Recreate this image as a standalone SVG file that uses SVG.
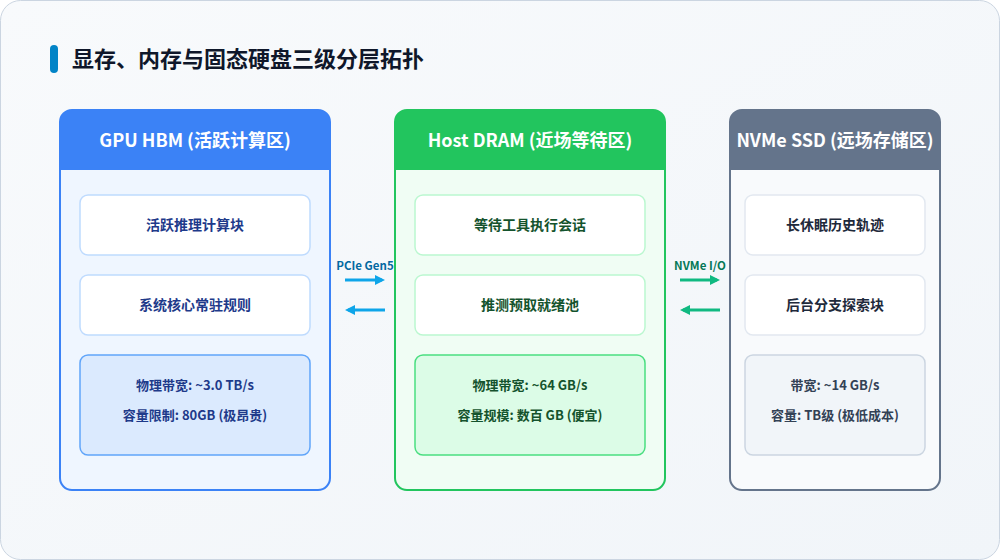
<svg xmlns="http://www.w3.org/2000/svg" width="1000" height="560" viewBox="0 0 1000 560">
  <defs>
    <linearGradient id="bg" x1="0" y1="0" x2="1" y2="1">
      <stop offset="0" stop-color="#f8fafc"/>
      <stop offset="1" stop-color="#f1f5f9"/>
    </linearGradient>
    <marker id="ahBlue" markerWidth="10" markerHeight="10" refX="7" refY="5" orient="auto" markerUnits="userSpaceOnUse">
      <path d="M0,0 L10,5 L0,10 Z" fill="#0ea5e9"/>
    </marker>
    <marker id="ahGreen" markerWidth="10" markerHeight="10" refX="7" refY="5" orient="auto" markerUnits="userSpaceOnUse">
      <path d="M0,0 L10,5 L0,10 Z" fill="#10b981"/>
    </marker>
    <style>
      text { font-family: "Noto Sans CJK SC", "Noto Sans", sans-serif; font-weight: bold; text-anchor: middle; }
      .title { font-size: 22px; fill: #0f172a; text-anchor: start; }
      .hdr { font-size: 18px; fill: #ffffff; }
      .item { font-size: 14px; }
      .stat { font-size: 13px; }
      .lbl { font-size: 11.5px; }
      .conn { stroke-width: 3; fill: none; }
    </style>
  </defs>

  <rect x="0.5" y="0.5" width="999" height="559" rx="20" fill="url(#bg)" stroke="#cbd5e1"/>

  <g id="title">
    <rect x="50" y="45" width="8" height="28" rx="4" fill="#0284c7"/>
    <text class="title" x="72" y="67">显存、内存与固态硬盘三级分层拓扑</text>
  </g>

  <g id="gpu-hbm">
    <rect x="60" y="110" width="270" height="380" rx="12" fill="#eff6ff" stroke="#3b82f6" stroke-width="2"/>
    <path d="M60,170 L60,122 A12,12 0 0 1 72,110 L318,110 A12,12 0 0 1 330,122 L330,170 Z" fill="#3b82f6"/>
    <text class="hdr" x="195" y="147">GPU HBM (活跃计算区)</text>
    <rect x="80" y="195" width="230" height="60" rx="8" fill="#ffffff" stroke="#bfdbfe" stroke-width="1.5"/>
    <text class="item" x="195" y="230" fill="#1e3a8a">活跃推理计算块</text>
    <rect x="80" y="275" width="230" height="60" rx="8" fill="#ffffff" stroke="#bfdbfe" stroke-width="1.5"/>
    <text class="item" x="195" y="310" fill="#1e3a8a">系统核心常驻规则</text>
    <rect x="80" y="355" width="230" height="100" rx="8" fill="#dbeafe" stroke="#60a5fa" stroke-width="1.5"/>
    <text class="stat" x="195" y="390" fill="#1e3a8a">物理带宽: ~3.0 TB/s</text>
    <text class="stat" x="195" y="420" fill="#1e3a8a">容量限制: 80GB (极昂贵)</text>
  </g>

  <g id="host-dram">
    <rect x="395" y="110" width="270" height="380" rx="12" fill="#f0fdf4" stroke="#22c55e" stroke-width="2"/>
    <path d="M395,170 L395,122 A12,12 0 0 1 407,110 L653,110 A12,12 0 0 1 665,122 L665,170 Z" fill="#22c55e"/>
    <text class="hdr" x="530" y="147">Host DRAM (近场等待区)</text>
    <rect x="415" y="195" width="230" height="60" rx="8" fill="#ffffff" stroke="#bbf7d0" stroke-width="1.5"/>
    <text class="item" x="530" y="230" fill="#14532d">等待工具执行会话</text>
    <rect x="415" y="275" width="230" height="60" rx="8" fill="#ffffff" stroke="#bbf7d0" stroke-width="1.5"/>
    <text class="item" x="530" y="310" fill="#14532d">推测预取就绪池</text>
    <rect x="415" y="355" width="230" height="100" rx="8" fill="#dcfce7" stroke="#4ade80" stroke-width="1.5"/>
    <text class="stat" x="530" y="390" fill="#14532d">物理带宽: ~64 GB/s</text>
    <text class="stat" x="530" y="420" fill="#14532d">容量规模: 数百 GB (便宜)</text>
  </g>

  <g id="nvme-ssd">
    <rect x="730" y="110" width="210" height="380" rx="12" fill="#f8fafc" stroke="#64748b" stroke-width="2"/>
    <path d="M730,170 L730,122 A12,12 0 0 1 742,110 L928,110 A12,12 0 0 1 940,122 L940,170 Z" fill="#64748b"/>
    <text class="hdr" x="835" y="147">NVMe SSD (远场存储区)</text>
    <rect x="745" y="195" width="180" height="60" rx="8" fill="#ffffff" stroke="#e2e8f0" stroke-width="1.5"/>
    <text class="item" x="835" y="230" fill="#1e293b">长休眠历史轨迹</text>
    <rect x="745" y="275" width="180" height="60" rx="8" fill="#ffffff" stroke="#e2e8f0" stroke-width="1.5"/>
    <text class="item" x="835" y="310" fill="#1e293b">后台分支探索块</text>
    <rect x="745" y="355" width="180" height="100" rx="8" fill="#f1f5f9" stroke="#cbd5e1" stroke-width="1.5"/>
    <text class="stat" x="835" y="390" fill="#334155">带宽: ~14 GB/s</text>
    <text class="stat" x="835" y="420" fill="#334155">容量: TB级 (极低成本)</text>
  </g>

  <g id="connectors">
    <text class="lbl" x="365" y="270" fill="#0369a1">PCIe Gen5</text>
    <line class="conn" x1="345" y1="280" x2="382" y2="280" stroke="#0ea5e9" marker-end="url(#ahBlue)"/>
    <line class="conn" x1="385" y1="310" x2="348" y2="310" stroke="#0ea5e9" marker-end="url(#ahBlue)"/>
    <text class="lbl" x="700" y="270" fill="#047857">NVMe I/O</text>
    <line class="conn" x1="680" y1="280" x2="717" y2="280" stroke="#10b981" marker-end="url(#ahGreen)"/>
    <line class="conn" x1="720" y1="310" x2="683" y2="310" stroke="#10b981" marker-end="url(#ahGreen)"/>
  </g>
</svg>
